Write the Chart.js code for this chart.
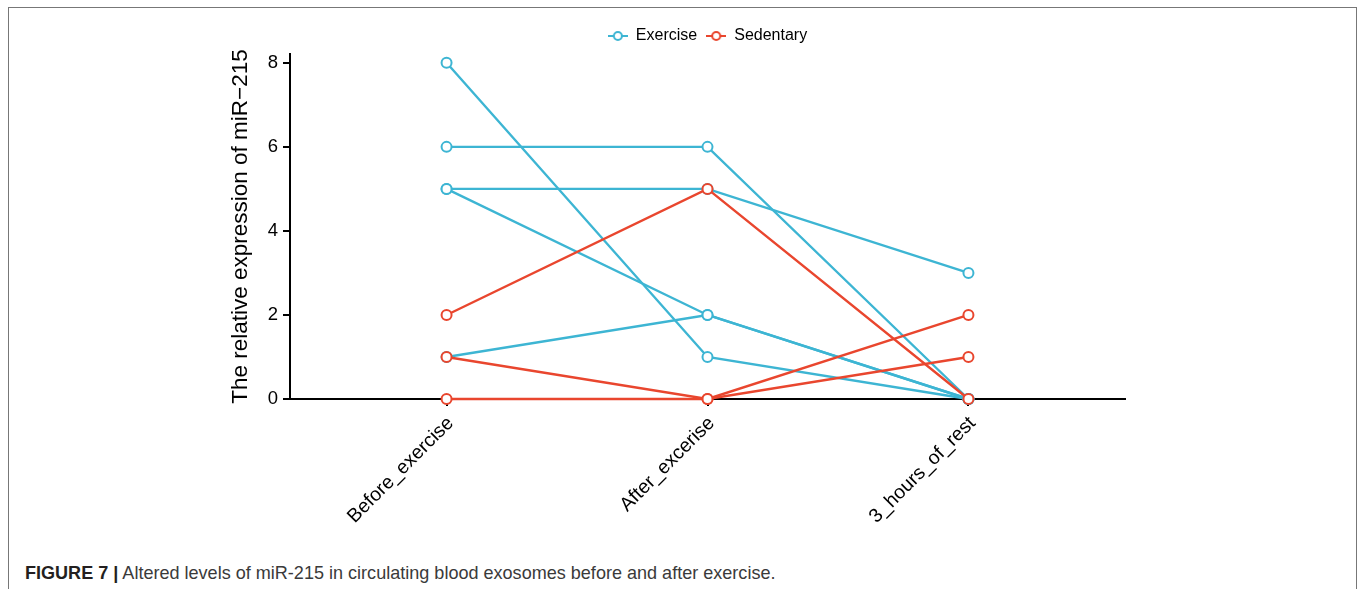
<!DOCTYPE html>
<html>
<head>
<meta charset="utf-8">
<script src="https://cdn.jsdelivr.net/npm/chart.js@4.4.0/dist/chart.umd.min.js"></script>
<style>
    body { margin: 0; background: #fff; width: 1358px; height: 589px; overflow: hidden; position: relative; }
    #frame { position: absolute; left: 8px; top: 7px; width: 1347px; height: 600px;
             border-left: 1.5px solid #777; border-top: 1.5px solid #777; border-right: 1.5px solid #777; }
    #wrap { position: absolute; left: 0; top: 0; width: 1358px; height: 545px; }
    #caption { position: absolute; left: 25px; top: 562px; font-family: "Liberation Sans", Arial, sans-serif;
               font-size: 19px; color: #3a3a3a; white-space: nowrap; transform: scaleX(0.95); transform-origin: left top; }
    #caption b { color: #231f20; }
</style>
</head>
<body>
<div id="frame"></div>
<div id="wrap"><canvas id="myChart"></canvas></div>
<div id="caption"><b>FIGURE 7 |</b> Altered levels of miR-215 in circulating blood exosomes before and after exercise.</div>

<script>
// categorias del eje x
const categories = ['Before_exercise', 'After_excerise', '3_hours_of_rest'];
const yTicks = [0, 2, 4, 6, 8];

// cada fila = un individuo
const exercise = [
    [8, 1, 0],
    [6, 6, 0],
    [5, 5, 3],
    [5, 2, 0],
    [1, 2, 0]
];
const sedentary = [
    [2, 5, 0],
    [1, 0, 1],
    [0, 0, 2]
];

const azul = '#3db5d3';
const rojo = '#e9462e';

function marcador(color) {
    const c = document.createElement('canvas');
    c.width = 20;
    c.height = 12;
    const g = c.getContext('2d');
    g.strokeStyle = color;
    g.lineWidth = 2;
    g.beginPath();
    g.moveTo(0, 6);
    g.lineTo(20, 6);
    g.stroke();
    g.beginPath();
    g.arc(10, 6, 4, 0, Math.PI * 2);
    g.fillStyle = '#fff';
    g.fill();
    g.stroke();
    return c;
}

function serie(valores, color, grupo) {
    return {
        label: grupo,
        data: valores.map(function (v, i) { return { x: i, y: v }; }),
        borderColor: color,
        borderWidth: 2.4,
        pointRadius: 5,
        pointBorderWidth: 2,
        pointBackgroundColor: '#fff',
        pointBorderColor: color,
        clip: false,
        tension: 0
    };
}

// rojo primero para que quede encima
var datasets = [];
sedentary.forEach(function (fila) { datasets.push(serie(fila, rojo, 'Sedentary')); });
exercise.forEach(function (fila) { datasets.push(serie(fila, azul, 'Exercise')); });

const fuente = "'Liberation Sans', Arial, sans-serif";
Chart.defaults.font.family = fuente;
Chart.defaults.color = '#000';

new Chart(document.getElementById('myChart'), {
    type: 'line',
    data: { datasets: datasets },
    options: {
        responsive: true,
        maintainAspectRatio: false,
        animation: false,
        layout: { padding: { left: 225, right: 233, top: 19, bottom: 16 } },
        plugins: {
            tooltip: { enabled: false },
            legend: {
                position: 'top',
                fullSize: false,
                onClick: null,
                labels: {
                    usePointStyle: true,
                    pointStyleWidth: 20,
                    boxHeight: 12,
                    padding: 9,
                    font: { size: 16 },
                    generateLabels: function () {
                        return [
                            { text: 'Exercise', pointStyle: marcador(azul), fillStyle: azul, strokeStyle: azul, lineWidth: 0, fontColor: '#000' },
                            { text: 'Sedentary', pointStyle: marcador(rojo), fillStyle: rojo, strokeStyle: rojo, lineWidth: 0, fontColor: '#000' }
                        ];
                    }
                }
            }
        },
        scales: {
            x: {
                type: 'linear',
                min: -0.6,
                max: 2.6,
                afterBuildTicks: function (scale) {
                    scale.ticks = categories.map(function (c, i) { return { value: i }; });
                },
                afterFit: function (scale) { scale.height = 130; },
                border: { color: '#000', width: 2 },
                grid: { drawOnChartArea: false, drawTicks: true, tickLength: 7, color: '#000', lineWidth: 2 },
                ticks: {
                    autoSkip: false,
                    minRotation: 45,
                    maxRotation: 45,
                    padding: 6,
                    labelOffset: 4,
                    font: { size: 19.5 },
                    callback: function (v) { return categories[v]; }
                }
            },
            y: {
                min: 0,
                max: 8.21,
                afterBuildTicks: function (scale) {
                    scale.ticks = yTicks.map(function (v) { return { value: v }; });
                },
                afterFit: function (scale) { scale.width = 65; },
                border: { color: '#000', width: 2 },
                grid: { drawOnChartArea: false, drawTicks: true, tickLength: 7, color: '#000', lineWidth: 2 },
                ticks: { padding: 5, font: { size: 18.5 } },
                title: {
                    display: true,
                    text: 'The relative expression of miR\u2212215',
                    font: { size: 22.5 },
                    padding: { top: 2, bottom: 0 }
                }
            }
        }
    }
});
</script>
</body>
</html>
